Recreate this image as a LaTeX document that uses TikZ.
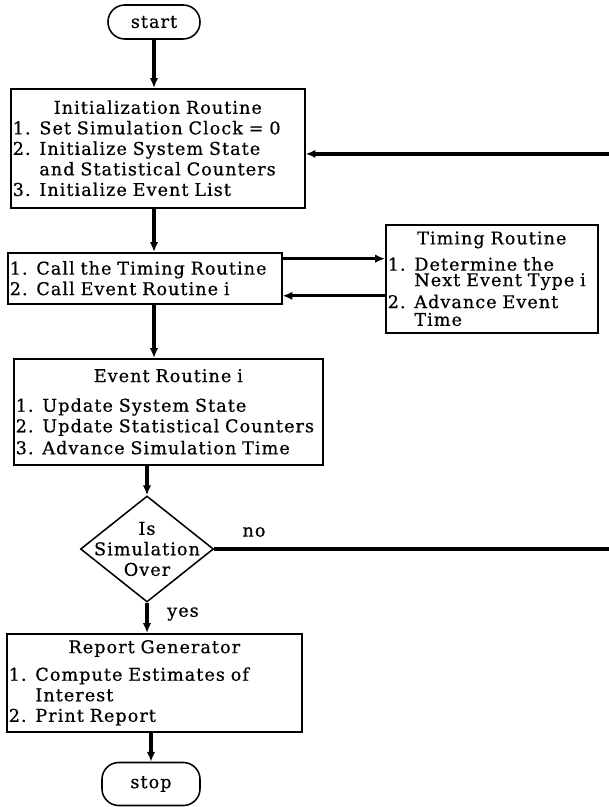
\documentclass[tikz,border=0pt]{standalone}
\usepackage{fontspec}
\setmainfont{DejaVu Serif}[LetterSpace=6, FakeBold=0.6]
\usetikzlibrary{shapes.geometric,arrows.meta}

\tikzset{
  every node/.style={font=\fontsize{12.5}{14.6}\selectfont},
  routine/.style={draw, line width=1.1pt, anchor=north west, align=left, inner xsep=0.05cm, inner ysep=0pt},
  terminal/.style={draw, line width=1.1pt, rounded corners=0.42cm, minimum width=2.3cm, minimum height=0.85cm},
  decision/.style={draw, line width=1.1pt, diamond, minimum width=3.325cm, minimum height=2.65cm, inner sep=0pt},
  flow/.style={-{Latex[length=7pt,width=6pt]}, line width=2.3pt}
}

\begin{document}
\begin{tikzpicture}[x=0.025cm, y=-0.025cm]
    \useasboundingbox (0,0) rectangle (608,807);

    % Start
    \node[terminal] (start) at (154,22) {start};

    % Initialization routine
    \node[routine, text width=7.25cm, minimum height=2.975cm] (init) at (10,88)
        {\noindent\makebox[\hsize]{Initialization Routine}\\
         1. Set Simulation Clock = 0\\
         2. Initialize System State\\
         \phantom{2. }and Statistical Counters\\
         3. Initialize Event List};

    % Main program
    \node[routine, text width=6.75cm, minimum height=1.275cm] (call) at (7,252)
        {1. Call the Timing Routine\\
         2. Call Event Routine i};

    % Timing routine
    \node[routine, text width=5.2cm, minimum height=2.7cm] (timing) at (385,224)
        {\noindent\makebox[\hsize]{Timing Routine}\\[4pt]
         1. Determine the\\[-3.5pt]
         \phantom{1. }Next Event Type i\\[1pt]
         2. Advance Event\\[-2pt]
         \phantom{2. }Time};

    % Event routine
    \node[routine, text width=7.625cm, minimum height=2.65cm] (event) at (13,358)
        {\noindent\makebox[\hsize]{Event Routine i}\\[6.5pt]
         1. Update System State\\
         2. Update Statistical Counters\\[1pt]
         3. Advance Simulation Time};

    % Decision
    \node[decision] (dec) at (147,549) {};
    \node[align=center] (decT) at (dec.center) {Is\\Simulation\\Over};
    \node (no) at (254,532) {no};
    \node (yes) at (183,614) {yes};

    % Report generator
    \node[routine, text width=7.275cm, minimum height=2.45cm] (report) at (6,633)
        {\noindent\makebox[\hsize]{Report Generator}\\[5pt]
         1. Compute Estimates of\\
         \phantom{1. }Interest\\
         2. Print Report};

    % Stop
    \node[terminal, minimum width=2.45cm, minimum height=1.075cm] (stop) at (151,784) {stop};

    % Flow lines
    \draw[flow] (start.south) -- (start.south |- init.north);
    \draw[flow] (init.south -| start) -- (call.north -| start);
    \draw[flow] ([yshift=0.49cm]call.east) -- ([yshift=0.49cm]call.east -| timing.west);
    \draw[flow] ([yshift=-0.425cm]timing.west) -- ([yshift=-0.425cm]timing.west -| call.east);
    \draw[flow] (call.south -| start) -- (event.north -| start);
    \draw[flow] (event.south -| dec) -- (dec.north);
    \draw[flow] (dec.south) -- (report.north -| dec);
    \draw[flow] (report.south -| stop) -- (stop.north);

    % Loop back
    \coordinate (loopR) at (616,549);
    \draw[flow] (dec.east) -- (loopR) |- ([yshift=-0.14cm]init.east);
\end{tikzpicture}
\end{document}
